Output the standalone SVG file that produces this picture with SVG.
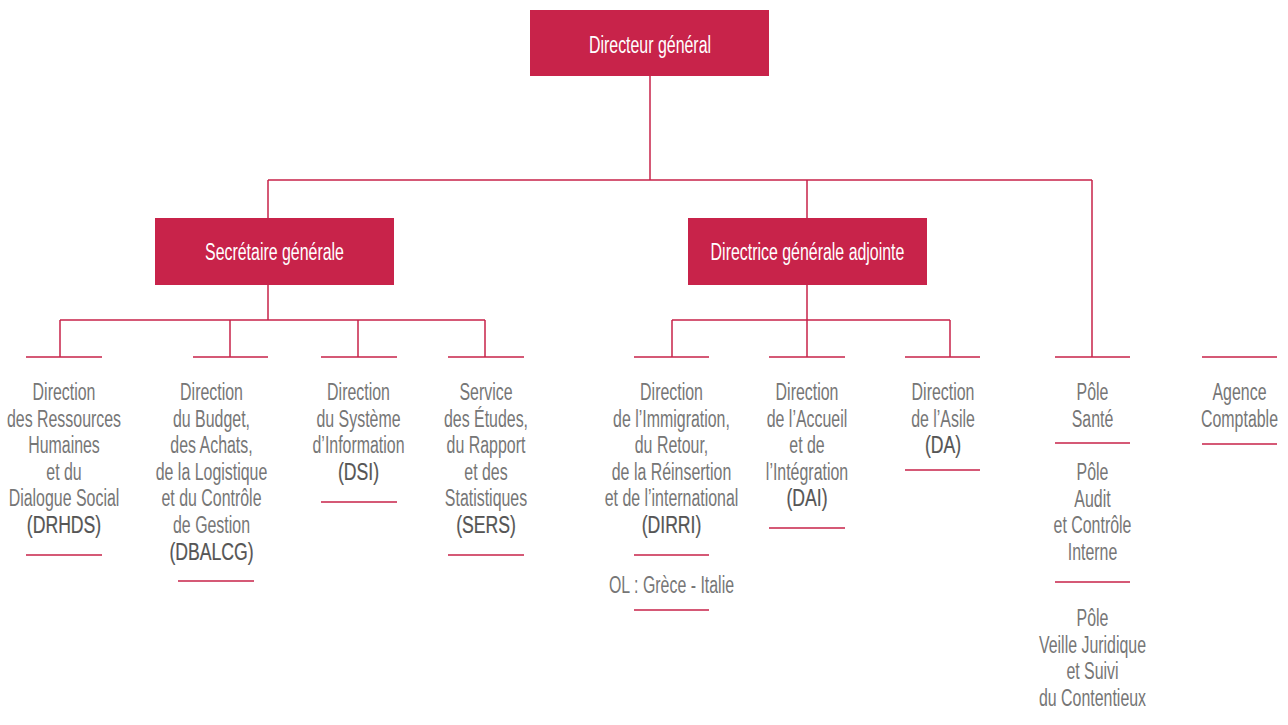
<svg xmlns="http://www.w3.org/2000/svg" width="1288" height="725" viewBox="0 0 1288 725">
<style>
.t{font-family:"Liberation Sans",Arial,sans-serif;font-size:24.5px;fill:#767676;text-anchor:middle}
.a{fill:#555555;stroke:#555555;stroke-width:0.25}
.w{fill:#ffffff}
.box{fill:#c8234a}
.ln{stroke:#c8234a;stroke-width:1.5;fill:none}
</style>
<rect width="1288" height="725" fill="#ffffff"/>
<g id="connectors" class="ln">
<path d="M650 76V180M268 180H1092M268 180V218M807 180V218M1092 180V357"/>
<path d="M268 285V320M60 320H485M60 320V357M230 320V357M358 320V357M485 320V357"/>
<path d="M807 285V320M672 320H950M672 320V357M807 320V357M950 320V357"/>
<path d="M26 357H102M193 357H268M321 357H397M448 357H524M634 357H709M769 357H845M905 357H980M1055 357H1130M1202 357H1277"/>
<path d="M26 555H102M178 581H254M321 502H397M448 555H524M634 555H709M634 610H709M769 528H845M905 470H980M1055 443H1130M1055 582H1130M1202 444H1277"/>
</g>
<g id="n-dg"><rect class="box" x="530" y="10" width="239" height="66"/><text class="t w" transform="translate(650 0) scale(0.65 1)" x="0" y="53">Directeur général</text></g>
<g id="n-sg"><rect class="box" x="155" y="218" width="239" height="67"/><text class="t w" transform="translate(274.5 0) scale(0.65 1)" x="0" y="260">Secrétaire générale</text></g>
<g id="n-dga"><rect class="box" x="688" y="218" width="239" height="67"/><text class="t w" transform="translate(807.5 0) scale(0.65 1)" x="0" y="260">Directrice générale adjointe</text></g>
<g id="n-drhds"><text class="t" transform="translate(64 0) scale(0.65 1)"><tspan x="0" y="400">Direction</tspan><tspan x="0" y="426.6">des Ressources</tspan><tspan x="0" y="453.2">Humaines</tspan><tspan x="0" y="479.8">et du</tspan><tspan x="0" y="506.4">Dialogue Social</tspan></text><text class="t a" transform="translate(64 0) scale(0.72 1)" x="0" y="533">(DRHDS)</text></g>
<g id="n-dbalcg"><text class="t" transform="translate(211.5 0) scale(0.65 1)"><tspan x="0" y="400">Direction</tspan><tspan x="0" y="426.6">du Budget,</tspan><tspan x="0" y="453.2">des Achats,</tspan><tspan x="0" y="479.8">de la Logistique</tspan><tspan x="0" y="506.4">et du Contrôle</tspan><tspan x="0" y="533">de Gestion</tspan></text><text class="t a" transform="translate(211.5 0) scale(0.72 1)" x="0" y="559.6">(DBALCG)</text></g>
<g id="n-dsi"><text class="t" transform="translate(358.5 0) scale(0.65 1)"><tspan x="0" y="400">Direction</tspan><tspan x="0" y="426.6">du Système</tspan><tspan x="0" y="453.2">d’Information</tspan></text><text class="t a" transform="translate(358.5 0) scale(0.72 1)" x="0" y="479.8">(DSI)</text></g>
<g id="n-sers"><text class="t" transform="translate(486 0) scale(0.65 1)"><tspan x="0" y="400">Service</tspan><tspan x="0" y="426.6">des Études,</tspan><tspan x="0" y="453.2">du Rapport</tspan><tspan x="0" y="479.8">et des</tspan><tspan x="0" y="506.4">Statistiques</tspan></text><text class="t a" transform="translate(486 0) scale(0.72 1)" x="0" y="533">(SERS)</text></g>
<g id="n-dirri"><text class="t" transform="translate(671.5 0) scale(0.65 1)"><tspan x="0" y="400">Direction</tspan><tspan x="0" y="426.6">de l’Immigration,</tspan><tspan x="0" y="453.2">du Retour,</tspan><tspan x="0" y="479.8">de la Réinsertion</tspan><tspan x="0" y="506.4">et de l’international</tspan></text><text class="t a" transform="translate(671.5 0) scale(0.72 1)" x="0" y="533">(DIRRI)</text></g>
<g id="n-ol"><text class="t" transform="translate(671.5 0) scale(0.65 1)" x="0" y="593">OL : Grèce - Italie</text></g>
<g id="n-dai"><text class="t" transform="translate(807 0) scale(0.65 1)"><tspan x="0" y="400">Direction</tspan><tspan x="0" y="426.6">de l’Accueil</tspan><tspan x="0" y="453.2">et de</tspan><tspan x="0" y="479.8">l’Intégration</tspan></text><text class="t a" transform="translate(807 0) scale(0.72 1)" x="0" y="506.4">(DAI)</text></g>
<g id="n-da"><text class="t" transform="translate(943 0) scale(0.65 1)"><tspan x="0" y="400">Direction</tspan><tspan x="0" y="426.6">de l’Asile</tspan></text><text class="t a" transform="translate(943 0) scale(0.72 1)" x="0" y="453.2">(DA)</text></g>
<g id="n-sante"><text class="t" transform="translate(1092.5 0) scale(0.65 1)"><tspan x="0" y="400">Pôle</tspan><tspan x="0" y="426.6">Santé</tspan></text></g>
<g id="n-audit"><text class="t" transform="translate(1092.5 0) scale(0.65 1)"><tspan x="0" y="480">Pôle</tspan><tspan x="0" y="506.6">Audit</tspan><tspan x="0" y="533.2">et Contrôle</tspan><tspan x="0" y="559.8">Interne</tspan></text></g>
<g id="n-veille"><text class="t" transform="translate(1092.5 0) scale(0.65 1)"><tspan x="0" y="626">Pôle</tspan><tspan x="0" y="652.6">Veille Juridique</tspan><tspan x="0" y="679.2">et Suivi</tspan><tspan x="0" y="705.8">du Contentieux</tspan></text></g>
<g id="n-agence"><text class="t" transform="translate(1239.5 0) scale(0.65 1)"><tspan x="0" y="400">Agence</tspan><tspan x="0" y="426.6">Comptable</tspan></text></g>
</svg>
